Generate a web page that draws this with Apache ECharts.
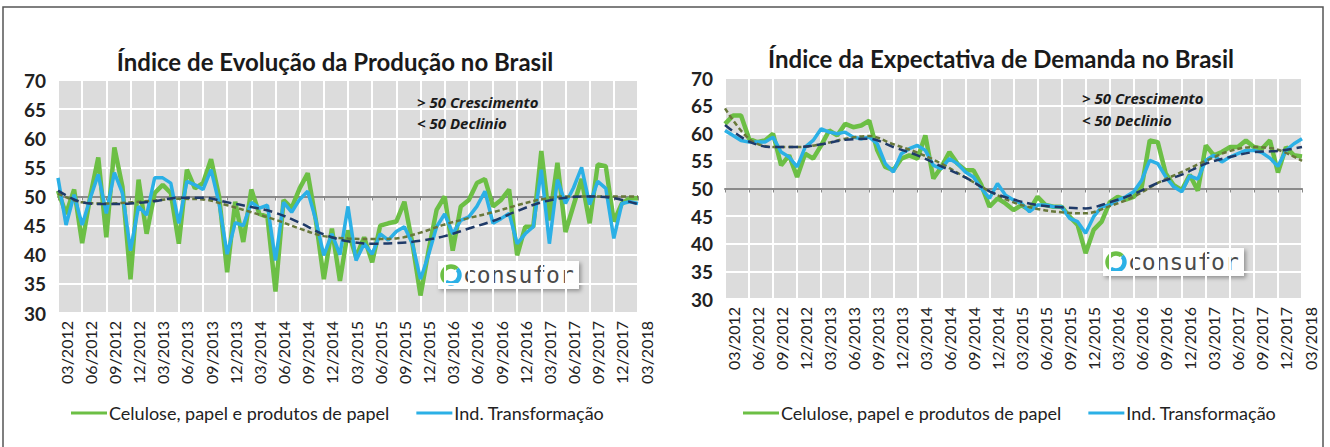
<!DOCTYPE html>
<html>
<head>
<meta charset="utf-8">
<script src="https://cdn.jsdelivr.net/npm/echarts@6/dist/echarts.min.js"></script>
<style>
  html, body { margin: 0; padding: 0; background: #fff; }
  #main { width: 1330px; height: 447px; }
</style>
</head>
<body>
<div id="main"></div>
<script>
  // eixo mensal 03/2012 .. 03/2018, rótulos trimestrais
  var quarterLabels = ['03/2012', '06/2012', '09/2012', '12/2012', '03/2013', '06/2013', '09/2013', '12/2013',
    '03/2014', '06/2014', '09/2014', '12/2014', '03/2015', '06/2015', '09/2015', '12/2015',
    '03/2016', '06/2016', '09/2016', '12/2016', '03/2017', '06/2017', '09/2017', '12/2017', '03/2018'];
  var yTicks = [30, 35, 40, 45, 50, 55, 60, 65, 70];

  // Índice de Evolução da Produção
  var prodCelulose = [51, 47, 51.2, 42, 50, 56.7, 43, 58.4, 51.7, 35.8, 52.9, 43.6, 50.6, 52, 50.6, 41.9,
    54.6, 51.4, 52.3, 56.4, 50, 37, 49.1, 42.2, 51.2, 47, 46.5, 33.7, 49.4, 48, 51.4, 54, 46, 35.8,
    44.5, 35.5, 44.2, 39.6, 43, 38.7, 45, 45.4, 45.7, 49.1, 41.9, 33, 40.7, 47.7, 50, 40.7, 48.3, 49.4,
    52.3, 53, 48.3, 49.4, 51.2, 39.9, 44.8, 44.8, 57.8, 45.9, 55.8, 43.9, 48.5, 53, 45.4, 55.5, 55.2,
    45.7, 48.8, 49.7, 49.7];
  var prodTransf = [53.2, 45.1, 50.3, 45.1, 49.7, 53.8, 47.1, 54.1, 50.6, 40.7, 48.3, 46.8, 53.2, 53.2,
    52.3, 45.4, 52.6, 52, 51.2, 54.6, 48.8, 40.1, 45.5, 45, 49, 48, 48.5, 39, 49, 47.3, 49.5, 50.9, 46,
    39.9, 43.6, 40, 48.3, 39, 41.9, 40.1, 43.6, 42.5, 44, 44.8, 41.9, 35.8, 40, 44.8, 47, 43.6, 45.9,
    46.5, 48.3, 50.9, 45.4, 46.2, 47.1, 41.9, 43.6, 44.8, 54.6, 41.9, 52.9, 48.8, 51.5, 55, 48.6, 52.6,
    51.4, 42.8, 48.8, 49.1, 48.8];
  // tendências (valores trimestrais)
  var prodCeluloseTrend = [50.5, 49.0, 48.8, 49.0, 49.3, 49.6, 49.5, 48.5, 47.3, 46.0, 44.5, 43.2, 42.8,
    42.7, 42.8, 43.8, 45.2, 46.3, 47.3, 48.5, 49.5, 50.0, 50.0, 50.0, 50.0];
  var prodTransfTrend = [51.0, 49.0, 48.7, 48.8, 49.2, 49.8, 49.8, 49.0, 48.2, 47.2, 45.5, 43.5, 42.3,
    41.9, 42.0, 42.4, 43.2, 44.5, 45.8, 47.5, 49.0, 49.8, 50.0, 49.7, 48.7];

  // Índice da Expectativa de Demanda
  var demCelulose = [61.7, 63.2, 63.2, 59, 58.4, 58.7, 59.9, 54.2, 56, 52.1, 56.3, 55.4, 57.8, 60.5, 59.6,
    61.7, 61.1, 61.4, 62.3, 56.9, 53.9, 53.3, 55.4, 56, 55.4, 59.6, 51.8, 53.9, 56.6, 54.5, 53.3, 53.3,
    50.6, 46.7, 48.2, 47.3, 46.1, 47, 46.1, 48.5, 47, 46.7, 46.7, 44.9, 43.4, 38.3, 42.5, 44, 47.5, 48.5,
    48, 48.5, 50.3, 58.7, 58.4, 52.7, 50.6, 49.7, 52.5, 49.6, 57.8, 56, 56.6, 57.5, 57.5, 58.7, 57.5,
    57.2, 58.7, 52.9, 57.5, 56, 55.8];
  var demTransf = [60.5, 59.6, 58.7, 58.4, 58.4, 58.4, 59.3, 56.6, 55.7, 53.9, 57.5, 58.7, 60.8, 60.2,
    59.9, 60.2, 59.3, 59, 59.3, 58.1, 54.5, 53, 56.3, 57.2, 57.8, 56.9, 54.2, 53.6, 55.4, 54.5, 53, 52.1,
    50, 48.2, 50.9, 48.8, 47.9, 47.3, 45.8, 47, 47, 46.7, 46.7, 44.6, 44, 41.9, 44.9, 46.7, 47, 47.9,
    48.5, 49.4, 51.5, 55.1, 54.5, 52.1, 50.3, 49.4, 52.3, 51.7, 55.1, 56, 54.8, 55.7, 56.3, 56.9, 56.9,
    56.5, 55.5, 54, 56.9, 58.1, 59];
  var demCeluloseTrend = [64.5, 59.0, 57.5, 57.5, 58.0, 59.0, 59.5, 58.0, 56.5, 54.5, 52.0, 49.5, 47.5,
    46.3, 45.7, 45.5, 46.8, 48.5, 51.0, 53.0, 55.0, 56.8, 57.5, 57.0, 55.0];
  var demTransfTrend = [61.5, 58.5, 57.5, 57.5, 58.0, 58.8, 59.0, 57.5, 56.0, 54.0, 52.0, 49.5, 48.0,
    47.0, 46.6, 46.4, 47.5, 49.0, 51.0, 52.5, 54.5, 55.7, 56.6, 56.8, 57.5];

  var nameCel = 'Celulose, papel e produtos de papel';
  var nameInd = 'Ind. Transformação';

  // categorias mensais a partir dos rótulos trimestrais
  var months = [];
  quarterLabels.forEach(function (q, k) {
    var m = parseInt(q.slice(0, 2), 10), y = parseInt(q.slice(3), 10);
    var steps = k < quarterLabels.length - 1 ? 3 : 1;
    for (var s = 0; s < steps; s++) {
      var mm = m + s;
      months.push((mm < 10 ? '0' : '') + mm + '/' + y);
    }
  });

  var green = '#6cbf45', blue = '#2bb0e6', navy = '#1f3a68', olive = '#68783a';
  var grids = [
    {left: 58, top: 80, width: 580, height: 233},
    {left: 725, top: 78, width: 577, height: 221}
  ];

  function quarterPoints(arr) {
    return arr.map(function (v, k) { return [k * 3, v]; });
  }
  function every3(i) { return i % 3 === 0; }

  var xAxes = [], yAxes = [];
  grids.forEach(function (g, gi) {
    xAxes.push({
      type: 'category', gridIndex: gi, data: months, boundaryGap: false,
      axisLine: {show: false}, axisTick: {show: false},
      axisLabel: {
        interval: 2, rotate: 90, margin: 8, color: '#222',
        fontFamily: 'Lato', fontSize: 16, verticalAlign: 'top'
      },
      splitLine: {show: true, interval: every3, lineStyle: {color: '#fff', width: 2}}
    });
    // linha dos 50 pontos
    xAxes.push({
      type: 'category', gridIndex: gi, data: months, boundaryGap: false,
      position: 'bottom', offset: -g.height / 2,
      axisLine: {show: true, lineStyle: {color: '#8a8a8a', width: 2}},
      axisTick: {show: true, interval: every3, length: 4, lineStyle: {color: '#8a8a8a', width: 1}},
      axisLabel: {show: false}, splitLine: {show: false}
    });
    yAxes.push({
      type: 'value', gridIndex: gi, min: yTicks[0], max: yTicks[yTicks.length - 1], interval: 5,
      axisLine: {show: false}, axisTick: {show: false},
      axisLabel: {color: '#222', fontFamily: 'Lato', fontWeight: 'bold', fontSize: 19, margin: 12},
      splitLine: {lineStyle: {color: '#fff', width: 2}}
    });
  });

  function seriesFor(gi, cel, ind, celT, indT) {
    var xi = gi * 2;
    return [
      {name: nameCel, type: 'line', xAxisIndex: xi, yAxisIndex: gi, data: cel, showSymbol: false,
        color: green, lineStyle: {color: green, width: 4.5}, z: 2},
      {name: nameInd, type: 'line', xAxisIndex: xi, yAxisIndex: gi, data: ind, showSymbol: false,
        color: blue, lineStyle: {color: blue, width: 3.5}, z: 3},
      {name: 'tend-cel', type: 'line', xAxisIndex: xi, yAxisIndex: gi, data: quarterPoints(celT),
        showSymbol: false, smooth: 0.35, lineStyle: {color: olive, width: 2.5, type: [5, 3]}, z: 4},
      {name: 'tend-ind', type: 'line', xAxisIndex: xi, yAxisIndex: gi, data: quarterPoints(indT),
        showSymbol: false, smooth: 0.35, lineStyle: {color: navy, width: 2.5, type: [9, 5]}, z: 5}
    ];
  }

  // marca d'água consufor
  function logo(x, y) {
    return {
      type: 'group', x: x, y: y, z: 50,
      children: [
        {type: 'rect', shape: {x: 0, y: 0, width: 141, height: 28},
          style: {fill: '#fdfdfd', shadowBlur: 4, shadowOffsetX: 2, shadowOffsetY: 2, shadowColor: 'rgba(0,0,0,0.35)'}},
        {type: 'arc', shape: {cx: 13, cy: 14, r: 8.5, startAngle: Math.PI * 0.75, endAngle: Math.PI * 1.75},
          style: {stroke: green, lineWidth: 4.5, fill: null}},
        {type: 'arc', shape: {cx: 13, cy: 14, r: 8.5, startAngle: Math.PI * 1.75, endAngle: Math.PI * 2.75},
          style: {stroke: blue, lineWidth: 4.5, fill: null}},
        {type: 'line', shape: {x1: 8, y1: 19, x2: 18, y2: 9}, style: {stroke: '#fdfdfd', lineWidth: 2}},
        {type: 'text', x: 25, y: 14, style: {text: 'consufor', fill: '#4a4a4a', font: '23px "DejaVu Sans Mono"',
          verticalAlign: 'middle'}}
      ]
    };
  }

  var legendText = {fontFamily: 'Lato', fontSize: 18, color: '#222', padding: [0, 0, 0, -3]};
  var myChart = echarts.init(document.getElementById('main'), null, {renderer: 'svg'});
  var option = {
    backgroundColor: '#fff',
    animation: false,
    grid: grids.map(function (g) {
      return {left: g.left, top: g.top, width: g.width, height: g.height, show: true,
        backgroundColor: '#dcdcdc', borderWidth: 0};
    }),
    xAxis: xAxes,
    yAxis: yAxes,
    legend: [
      {left: 66, top: 399, data: [nameCel, nameInd], icon: 'rect', itemWidth: 36, itemHeight: 3,
        itemGap: 27, textStyle: legendText},
      {left: 738, top: 399, data: [nameCel, nameInd], icon: 'rect', itemWidth: 36, itemHeight: 3,
        itemGap: 27, textStyle: legendText}
    ],
    graphic: [
      {type: 'rect', shape: {x: 3, y: 7, width: 1320, height: 460}, style: {fill: null, stroke: '#555', lineWidth: 1.5}},
      {type: 'text', x: 335, y: 61, style: {text: 'Índice de Evolução da Produção no Brasil', fill: '#1a1a1a',
        font: 'bold 24px Lato', align: 'center', verticalAlign: 'middle'}},
      {type: 'text', x: 1001, y: 58, style: {text: 'Índice da Expectativa de Demanda no Brasil', fill: '#1a1a1a',
        font: 'bold 24px Lato', align: 'center', verticalAlign: 'middle'}},
      {type: 'text', x: 417, y: 102, z: 20, style: {text: '> 50 Crescimento', fill: '#1a1a1a',
        font: 'italic bold 15px "Open Sans"', verticalAlign: 'middle'}},
      {type: 'text', x: 417, y: 123, z: 20, style: {text: '< 50 Declinio', fill: '#1a1a1a',
        font: 'italic bold 15px "Open Sans"', verticalAlign: 'middle'}},
      {type: 'text', x: 1082, y: 98, z: 20, style: {text: '> 50 Crescimento', fill: '#1a1a1a',
        font: 'italic bold 15px "Open Sans"', verticalAlign: 'middle'}},
      {type: 'text', x: 1082, y: 120, z: 20, style: {text: '< 50 Declinio', fill: '#1a1a1a',
        font: 'italic bold 15px "Open Sans"', verticalAlign: 'middle'}},
      logo(438, 261),
      logo(1103, 248)
    ],
    series: seriesFor(0, prodCelulose, prodTransf, prodCeluloseTrend, prodTransfTrend)
      .concat(seriesFor(1, demCelulose, demTransf, demCeluloseTrend, demTransfTrend))
  };
  myChart.setOption(option);
</script>
</body>
</html>
